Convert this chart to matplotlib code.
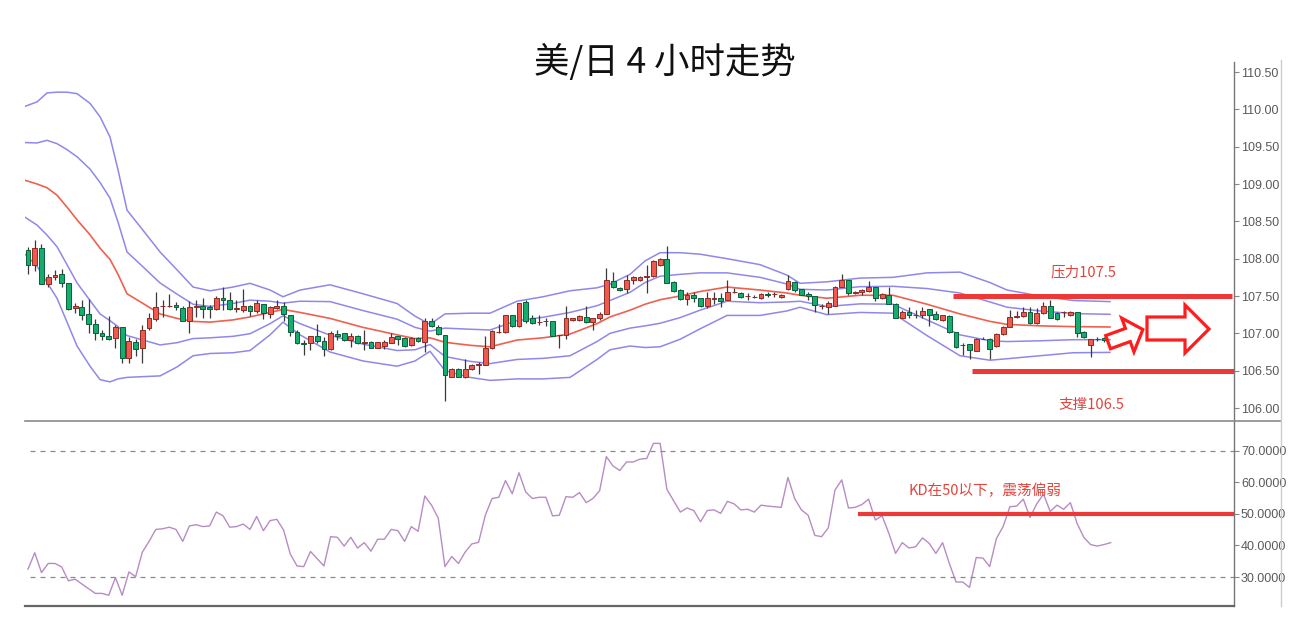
import numpy as np
import matplotlib.pyplot as plt
from matplotlib.lines import Line2D
from matplotlib.patches import Polygon

plt.rcParams['font.family'] = ['Noto Sans CJK SC', 'DejaVu Sans']

# USD/JPY 4h candles
opens = [108.11, 107.92, 108.14, 107.66, 107.75, 107.79, 107.68, 107.34, 107.35, 107.26,
         107.13, 107.00, 106.97, 106.94, 107.08, 106.67, 106.89, 106.81, 107.07, 107.19,
         107.36, 107.37, 107.38, 107.34, 107.17, 107.35, 107.37, 107.35, 107.32, 107.47,
         107.45, 107.32, 107.31, 107.36, 107.30, 107.39, 107.26, 107.34, 107.37, 107.25,
         107.02, 106.87, 106.87, 106.97, 106.90, 106.79, 106.99, 107.00, 106.91, 106.96,
         106.87, 106.89, 106.81, 106.83, 106.87, 106.96, 106.94, 106.84, 106.94, 106.89,
         107.17, 107.09, 106.98, 106.42, 106.52, 106.41, 106.52, 106.58, 106.58, 106.80,
         107.02, 107.02, 107.25, 107.10, 107.42, 107.20, 107.15, 107.16, 107.16, 106.98,
         106.98, 107.18, 107.18, 107.22, 107.15, 107.20, 107.26, 107.70, 107.61, 107.59,
         107.71, 107.71, 107.75, 107.77, 107.92, 107.99, 107.69, 107.58, 107.46, 107.52,
         107.47, 107.36, 107.46, 107.47, 107.45, 107.55, 107.54, 107.50, 107.49, 107.47,
         107.53, 107.53, 107.49, 107.59, 107.69, 107.59, 107.53, 107.50, 107.36, 107.35,
         107.37, 107.62, 107.71, 107.54, 107.55, 107.57, 107.62, 107.47, 107.52, 107.39,
         107.21, 107.29, 107.25, 107.24, 107.33, 107.26, 107.18, 107.23, 107.02, 106.85,
         106.86, 106.77, 106.93, 106.93, 106.83, 106.99, 107.09, 107.22, 107.23, 107.29,
         107.14, 107.27, 107.37, 107.27, 107.28, 107.24, 107.29, 107.02, 106.85, 106.92,
         106.94]
highs = [108.16, 108.25, 108.20, 107.80, 107.85, 107.86, 107.68, 107.40, 107.45, 107.46,
         107.19, 107.05, 107.23, 107.11, 107.08, 106.95, 106.93, 107.11, 107.27, 107.55,
         107.45, 107.53, 107.42, 107.36, 107.43, 107.44, 107.47, 107.38, 107.50, 107.62,
         107.56, 107.45, 107.60, 107.38, 107.44, 107.39, 107.36, 107.44, 107.42, 107.25,
         107.04, 106.91, 106.97, 107.13, 106.95, 107.03, 107.04, 107.01, 107.00, 106.98,
         107.05, 106.90, 106.89, 106.91, 107.00, 106.97, 106.95, 106.95, 106.95, 107.21,
         107.21, 107.11, 106.98, 106.53, 106.53, 106.65, 106.59, 106.61, 106.96, 107.04,
         107.13, 107.25, 107.25, 107.41, 107.45, 107.24, 107.25, 107.21, 107.17, 106.98,
         107.36, 107.21, 107.25, 107.37, 107.20, 107.28, 107.88, 107.82, 107.62, 107.78,
         107.77, 107.77, 107.92, 107.98, 108.01, 108.17, 107.70, 107.59, 107.56, 107.56,
         107.48, 107.55, 107.55, 107.54, 107.72, 107.61, 107.55, 107.54, 107.52, 107.54,
         107.55, 107.55, 107.53, 107.78, 107.70, 107.60, 107.55, 107.50, 107.39, 107.43,
         107.64, 107.79, 107.71, 107.57, 107.60, 107.70, 107.62, 107.54, 107.62, 107.40,
         107.31, 107.35, 107.31, 107.35, 107.33, 107.30, 107.25, 107.24, 107.02, 106.87,
         106.86, 106.94, 106.95, 106.94, 107.01, 107.10, 107.31, 107.30, 107.35, 107.35,
         107.34, 107.42, 107.44, 107.28, 107.30, 107.30, 107.29, 107.03, 106.92, 106.95,
         106.95]
lows = [107.80, 107.83, 107.66, 107.62, 107.71, 107.62, 107.31, 107.27, 107.18, 107.01,
        106.91, 106.91, 106.91, 106.80, 106.60, 106.60, 106.69, 106.60, 107.04, 107.16,
        107.22, 107.35, 107.31, 107.16, 107.01, 107.22, 107.20, 107.21, 107.31, 107.31,
        107.31, 107.29, 107.29, 107.23, 107.27, 107.19, 107.21, 107.32, 107.17, 106.96,
        106.86, 106.71, 106.78, 106.87, 106.69, 106.78, 106.91, 106.90, 106.82, 106.86,
        106.78, 106.80, 106.80, 106.79, 106.87, 106.84, 106.82, 106.83, 106.89, 106.75,
        107.09, 106.98, 106.09, 106.41, 106.41, 106.40, 106.51, 106.46, 106.58, 106.79,
        107.00, 107.01, 107.09, 107.09, 107.14, 107.13, 107.11, 107.10, 106.96, 106.80,
        106.92, 107.17, 107.17, 107.14, 107.05, 107.18, 107.26, 107.61, 107.57, 107.54,
        107.66, 107.70, 107.54, 107.76, 107.90, 107.67, 107.56, 107.45, 107.38, 107.42,
        107.35, 107.34, 107.39, 107.35, 107.44, 107.54, 107.48, 107.45, 107.47, 107.46,
        107.49, 107.49, 107.48, 107.58, 107.55, 107.51, 107.45, 107.28, 107.33, 107.26,
        107.36, 107.62, 107.51, 107.53, 107.51, 107.55, 107.43, 107.46, 107.39, 107.20,
        107.20, 107.21, 107.21, 107.21, 107.10, 107.18, 107.17, 107.01, 106.81, 106.71,
        106.66, 106.76, 106.92, 106.66, 106.82, 106.98, 107.08, 107.20, 107.22, 107.12,
        107.13, 107.26, 107.20, 107.18, 107.22, 107.23, 106.95, 106.94, 106.68, 106.90,
        106.89]
closes = [107.92, 108.14, 107.66, 107.76, 107.78, 107.68, 107.33, 107.37, 107.24, 107.13,
          107.00, 106.97, 106.93, 107.09, 106.67, 106.90, 106.79, 107.05, 107.20, 107.35,
          107.37, 107.37, 107.35, 107.17, 107.35, 107.36, 107.33, 107.33, 107.48, 107.44,
          107.32, 107.34, 107.36, 107.30, 107.41, 107.27, 107.35, 107.37, 107.26, 107.02,
          106.87, 106.86, 106.97, 106.90, 106.79, 107.01, 106.97, 106.91, 106.96, 106.87,
          106.89, 106.81, 106.88, 106.88, 106.95, 106.93, 106.83, 106.94, 106.90, 107.17,
          107.10, 106.99, 106.44, 106.52, 106.42, 106.52, 106.58, 106.59, 106.81, 107.03,
          107.02, 107.24, 107.10, 107.40, 107.16, 107.14, 107.15, 107.16, 106.96, 106.98,
          107.20, 107.20, 107.23, 107.15, 107.20, 107.26, 107.71, 107.62, 107.58, 107.72,
          107.75, 107.76, 107.77, 107.97, 108.00, 107.67, 107.57, 107.46, 107.51, 107.47,
          107.36, 107.47, 107.48, 107.43, 107.55, 107.55, 107.49, 107.50, 107.49, 107.53,
          107.51, 107.53, 107.52, 107.70, 107.58, 107.52, 107.50, 107.38, 107.36, 107.41,
          107.62, 107.71, 107.54, 107.56, 107.58, 107.62, 107.47, 107.53, 107.39, 107.21,
          107.29, 107.24, 107.25, 107.30, 107.24, 107.19, 107.24, 107.02, 106.82, 106.85,
          106.78, 106.93, 106.93, 106.79, 106.99, 107.09, 107.22, 107.23, 107.29, 107.14,
          107.27, 107.37, 107.21, 107.19, 107.28, 107.29, 107.01, 106.95, 106.92, 106.92,
          106.91]

# Bollinger bands, sampled along the chart (x in candle index)
band_x = [-0.45, 1.34, 2.83, 4.31, 5.80, 7.29, 9.22, 10.71, 12.19, 13.38,
          14.72, 17.10, 19.63, 22.16, 24.54, 27.06, 30.48, 33.01, 35.99, 37.92,
          40.45, 44.91, 49.81, 54.87, 57.55, 59.78, 62.01, 65.72, 68.70, 72.71,
          76.58, 80.59, 84.61, 86.54, 89.52, 91.75, 93.98, 96.95, 99.93, 103.94,
          108.85, 112.86, 114.80, 118.81, 123.72, 128.62, 133.68, 138.59, 143.05, 145.58,
          150.48, 155.39, 160.89]
band_mid = [109.05, 109.00, 108.95, 108.85, 108.69, 108.52, 108.32, 108.14, 107.99, 107.79,
            107.53, 107.40, 107.26, 107.20, 107.16, 107.15, 107.18, 107.22, 107.28, 107.32,
            107.28, 107.20, 107.08, 106.98, 106.93, 106.94, 106.88, 106.84, 106.82, 106.91,
            106.94, 106.99, 107.13, 107.22, 107.31, 107.39, 107.45, 107.50, 107.56, 107.62,
            107.58, 107.54, 107.51, 107.47, 107.51, 107.51, 107.39, 107.26, 107.16, 107.12,
            107.10, 107.09, 107.085]
band_up2 = [110.04, 110.10, 110.22, 110.23, 110.23, 110.21, 110.08, 109.90, 109.63, 109.19,
            108.65, 108.38, 108.09, 107.85, 107.62, 107.57, 107.62, 107.67, 107.58, 107.49,
            107.58, 107.65, 107.53, 107.40, 107.23, 107.12, 107.26, 107.27, 107.27, 107.43,
            107.49, 107.57, 107.61, 107.66, 107.79, 107.97, 108.08, 108.08, 108.06, 108.00,
            107.92, 107.78, 107.67, 107.69, 107.74, 107.75, 107.81, 107.82, 107.68, 107.58,
            107.50, 107.44, 107.425]
band_up1 = [109.555, 109.55, 109.585, 109.54, 109.46, 109.365, 109.20, 109.02, 108.81, 108.49,
            108.09, 107.89, 107.675, 107.525, 107.39, 107.36, 107.40, 107.445, 107.43, 107.405,
            107.43, 107.425, 107.305, 107.19, 107.08, 107.03, 107.07, 107.055, 107.045, 107.17,
            107.215, 107.28, 107.37, 107.44, 107.55, 107.68, 107.765, 107.79, 107.81, 107.81,
            107.75, 107.66, 107.59, 107.58, 107.625, 107.63, 107.60, 107.54, 107.42, 107.35,
            107.30, 107.265, 107.255]
band_lo1 = [108.555, 108.45, 108.315, 108.16, 107.92, 107.675, 107.44, 107.26, 107.17, 107.09,
            106.97, 106.91, 106.845, 106.875, 106.93, 106.94, 106.96, 106.995, 107.13, 107.235,
            107.13, 106.975, 106.855, 106.77, 106.78, 106.85, 106.69, 106.625, 106.595, 106.65,
            106.665, 106.70, 106.89, 107.00, 107.07, 107.10, 107.135, 107.21, 107.31, 107.43,
            107.41, 107.42, 107.43, 107.36, 107.395, 107.39, 107.18, 106.98, 106.90, 106.89,
            106.90, 106.915, 106.915]
band_lo2 = [108.06, 107.90, 107.68, 107.47, 107.15, 106.83, 106.56, 106.38, 106.35, 106.39,
            106.41, 106.42, 106.43, 106.55, 106.70, 106.73, 106.74, 106.77, 106.98, 107.15,
            106.98, 106.75, 106.63, 106.56, 106.63, 106.76, 106.50, 106.41, 106.37, 106.39,
            106.39, 106.41, 106.65, 106.78, 106.83, 106.81, 106.82, 106.92, 107.06, 107.24,
            107.24, 107.30, 107.35, 107.25, 107.28, 107.27, 106.97, 106.70, 106.64, 106.66,
            106.70, 106.74, 106.745]

# KD indicator
kd_values = [32.5, 37.7, 31.4, 34.3, 34.3, 33.2, 28.8, 29.3, 27.8, 26.3,
             24.8, 24.8, 24.2, 29.8, 24.2, 31.6, 30.1, 37.9, 41.3, 45.1,
             45.3, 45.8, 45.1, 41.3, 46.2, 46.6, 46.0, 46.2, 50.6, 49.4,
             45.8, 46.0, 46.8, 45.1, 49.2, 44.7, 47.9, 48.3, 44.9, 37.3,
             33.5, 33.3, 38.1, 35.8, 33.5, 42.8, 42.6, 39.8, 42.6, 39.2,
             40.9, 38.2, 42.0, 42.0, 45.1, 44.7, 41.3, 46.0, 44.5, 55.7,
             52.8, 48.7, 33.3, 36.5, 34.3, 37.9, 40.5, 41.0, 49.6, 54.9,
             55.3, 60.6, 56.4, 63.1, 57.0, 54.9, 55.3, 55.3, 49.4, 49.6,
             55.5, 55.3, 56.8, 53.6, 54.9, 57.4, 68.2, 65.2, 63.8, 66.5,
             66.5, 67.4, 67.6, 72.4, 72.4, 57.8, 54.2, 50.6, 51.9, 51.1,
             47.5, 51.1, 51.3, 50.2, 54.0, 53.2, 51.3, 51.5, 50.6, 52.8,
             52.5, 52.3, 52.1, 61.6, 54.9, 51.3, 49.6, 43.2, 42.8, 45.6,
             57.6, 60.8, 51.9, 52.1, 53.0, 54.7, 48.1, 49.4, 43.9, 37.5,
             40.9, 39.2, 39.6, 42.4, 40.7, 37.5, 40.9, 34.3, 28.4, 28.4,
             26.7, 36.2, 36.0, 33.3, 42.2, 46.0, 52.3, 52.5, 54.7, 48.9,
             53.2, 56.3, 50.8, 52.8, 51.5, 53.6, 47.0, 42.6, 40.3, 39.8,
             40.3, 40.9]

price_ticks = [106.0, 106.5, 107.0, 107.5, 108.0, 108.5, 109.0, 109.5, 110.0, 110.5]
kd_ticks = [30, 40, 50, 60, 70]
resistance = 107.5
support = 106.5
kd_level = 50

W, H = 1301, 634


def fx(px):
    return px / W


def fy(py):
    return 1 - py / H


fig = plt.figure(figsize=(W / 100, H / 100), dpi=100)
ax = fig.add_axes([fx(25), fy(421), fx(1234) - fx(25), fy(62) - fy(421)])
ax2 = fig.add_axes([fx(25), fy(606), fx(1234) - fx(25), fy(421) - fy(606)], sharex=ax)

x = np.arange(len(opens))
o = np.array(opens)
c = np.array(closes)
up = c >= o

# bands
purple = '#8f88ea'
ax.plot(band_x, band_up2, color=purple, lw=1.1)
ax.plot(band_x, band_up1, color=purple, lw=1.1)
ax.plot(band_x, band_lo1, color=purple, lw=1.1)
ax.plot(band_x, band_lo2, color=purple, lw=1.1)
ax.plot(band_x, band_mid, color='#f0604f', lw=1.2)

# candles
ax.vlines(x, lows, highs, color='#3a3a3a', lw=0.9, zorder=3)
body_lo = np.minimum(o, c)
body_h = np.abs(c - o)
ax.bar(x[up], body_h[up], bottom=body_lo[up], width=0.72, color='#ef5a4f',
       edgecolor='#8e2b25', linewidth=0.7, zorder=4)
ax.bar(x[~up], body_h[~up], bottom=body_lo[~up], width=0.72, color='#14ad6d',
       edgecolor='#0b5e3c', linewidth=0.7, zorder=4)

# support / resistance
ax.hlines(resistance, 137.5, 179.0, color='#ee3838', lw=3.6, zorder=5)
ax.hlines(support, 140.4, 179.3, color='#ee3838', lw=3.6, zorder=5)
ax.text(157.0, 107.82, '压力107.5', color='#e0453e', fontsize=10.5, ha='center', va='center')
ax.text(158.2, 106.04, '支撑106.5', color='#e0453e', fontsize=10.5, ha='center', va='center')

ax.set_xlim(-0.45, 179.33)
ax.set_ylim(105.826, 110.634)
ax.set_yticks(price_ticks)
ax.set_yticklabels([f'{v:.2f}' for v in price_ticks])

# KD panel
ax2.plot(np.arange(len(kd_values)), kd_values, color='#b78cc4', lw=1.0)
ax2.hlines([70, 30], 0.3, 179.33, color='#8a8a8a', lw=0.9, linestyles=(0, (4, 4)))
ax2.hlines(kd_level, 123.4, 179.33, color='#ee3838', lw=3.0, zorder=5)
ax2.text(142.3, 57.3, 'KD在50以下，震荡偏弱', color='#e0453e', fontsize=10.5,
         ha='center', va='center')
ax2.set_ylim(20.8, 79.5)
ax2.set_yticks(kd_ticks)
ax2.set_yticklabels([f'{v:.4f}' for v in kd_ticks])

for a in (ax, ax2):
    a.yaxis.tick_right()
    a.tick_params(axis='y', direction='out', length=3.5, width=0.8, color='#888888',
                  labelcolor='#5a5a5a', labelsize=9, pad=1.5)
    a.tick_params(axis='x', bottom=False, labelbottom=False)
    for s in ('top', 'left', 'bottom'):
        a.spines[s].set_visible(False)
    a.spines['right'].set_color('#777777')
    a.spines['right'].set_linewidth(1.0)
    for lab in a.get_yticklabels():
        lab.set_family(['Liberation Sans', 'DejaVu Sans'])
ax2.spines['bottom'].set_visible(True)
ax2.spines['bottom'].set_color('#666666')
ax2.spines['bottom'].set_linewidth(1.6)

# frame lines
fig.add_artist(Line2D([fx(25), fx(1281)], [fy(421), fy(421)], color='#8a8a8a', lw=1.2))
fig.add_artist(Line2D([fx(1281), fx(1281)], [fy(60), fy(606)], color='#cccccc', lw=1.0))

# hollow arrows
big = [(1147, 317), (1185, 317), (1185, 305), (1209, 329), (1185, 353), (1185, 340), (1147, 340)]
fig.add_artist(Polygon([(fx(px), fy(py)) for px, py in big], closed=True, fill=False,
                       edgecolor='#ff1c1c', lw=2.3, joinstyle='miter'))
theta = np.radians(20)
shape = [(19, 0), (3, 18), (3, 7), (-18, 7), (-18, -7), (3, -7), (3, -18)]
small = []
for sx, sy in shape:
    rx = sx * np.cos(theta) - sy * np.sin(theta)
    ry = sx * np.sin(theta) + sy * np.cos(theta)
    small.append((fx(1125 + rx), fy(336 - ry)))
fig.add_artist(Polygon(small, closed=True, fill=False, edgecolor='#ff1c1c', lw=2.3,
                       joinstyle='miter'))

fig.text(fx(665), fy(62), '美/日 4 小时走势', fontsize=25.5, ha='center', va='center',
         color='#111111')

fig.savefig('out.png', dpi=100, facecolor='white')
